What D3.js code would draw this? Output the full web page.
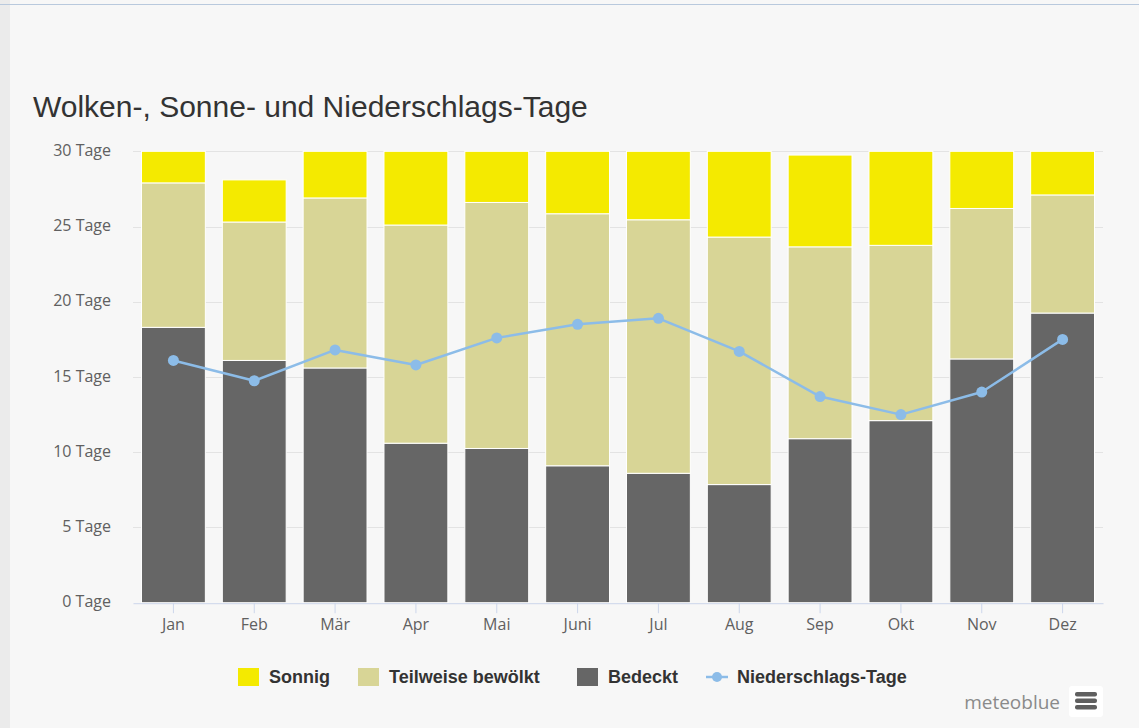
<!DOCTYPE html>
<html>
<head>
<meta charset="utf-8">
<script src="https://cdn.jsdelivr.net/npm/d3@7"></script>
<style>
  html, body { margin: 0; padding: 0; background: #f7f7f7; }
  svg { display: block; }
</style>
</head>
<body>
<div id="chart"></div>
<script>
// chart data
var months = ["Jan", "Feb", "Mär", "Apr", "Mai", "Juni", "Jul", "Aug", "Sep", "Okt", "Nov", "Dez"];
var bedeckt = [18.3, 16.1, 15.6, 10.6, 10.25, 9.1, 8.6, 7.85, 10.9, 12.1, 16.2, 19.25];
var teilweise = [9.6, 9.2, 11.3, 14.5, 16.35, 16.75, 16.85, 16.45, 12.75, 11.65, 10.0, 7.85];
var sonnig = [2.1, 2.8, 3.1, 4.9, 3.4, 4.15, 4.55, 5.7, 6.1, 6.25, 3.8, 2.9];
var niederschlag = [16.1, 14.75, 16.8, 15.8, 17.6, 18.5, 18.9, 16.7, 13.7, 12.5, 14.0, 17.5];
var yTicks = [0, 5, 10, 15, 20, 25, 30];

var seriesNames = ["Sonnig", "Teilweise bewölkt", "Bedeckt", "Niederschlags-Tage"];
var colors = { sonnig: "#f4ea00", teilweise: "#d8d596", bedeckt: "#666666", line: "#8cbce8" };

function drawChart(selector) {
    var width = 1139, height = 728;
    var left = 133, right = 1103, top = 151.3, bottom = 602.7;

    var svg = d3.select(selector)
        .append("svg")
        .attr("width", width)
        .attr("height", height);

    // frame bits of the page
    svg.append("rect").attr("width", width).attr("height", height).attr("fill", "#f7f7f7");
    svg.append("rect").attr("x", 0).attr("y", 0).attr("width", 10).attr("height", height).attr("fill", "#ebebeb");
    svg.append("line").attr("x1", 0).attr("x2", width).attr("y1", 4.5).attr("y2", 4.5)
        .attr("stroke", "#b9c9dd").attr("stroke-width", 1);

    svg.append("text")
        .attr("x", 33)
        .attr("y", 117)
        .attr("font-family", "'Liberation Sans', Arial, sans-serif")
        .attr("font-size", 30)
        .attr("fill", "#333333")
        .text("Wolken-, Sonne- und Niederschlags-Tage");

    var x = d3.scaleBand()
        .domain(months)
        .range([left, right]);

    var y = d3.scaleLinear()
        .domain([0, 30])
        .range([bottom, top]);

    var barW = x.bandwidth() * 0.79;

    // grid + y labels
    svg.append("g")
        .selectAll("line")
        .data(yTicks.filter(function(d) { return d > 0; }))
        .enter().append("line")
        .attr("x1", left).attr("x2", right)
        .attr("y1", function(d) { return Math.round(y(d)) + 0.5; })
        .attr("y2", function(d) { return Math.round(y(d)) + 0.5; })
        .attr("stroke", "#e3e3e3")
        .attr("stroke-width", 1);

    svg.append("g")
        .selectAll("text")
        .data(yTicks)
        .enter().append("text")
        .attr("x", 111)
        .attr("y", function(d) { return y(d) - 1; })
        .attr("dy", "0.35em")
        .attr("text-anchor", "end")
        .attr("font-family", "'Open Sans', sans-serif")
        .attr("font-size", 16)
        .attr("fill", "#606060")
        .text(function(d) { return d + " Tage"; });

    // stacked bars
    var rows = months.map(function(m, i) {
        return { month: m, bedeckt: bedeckt[i], teilweise: teilweise[i], sonnig: sonnig[i] };
    });
    var stack = d3.stack().keys(["bedeckt", "teilweise", "sonnig"]);
    var layers = stack(rows);

    svg.append("g")
        .selectAll("g")
        .data(layers)
        .enter().append("g")
        .attr("fill", function(d) { return colors[d.key]; })
        .selectAll("rect")
        .data(function(d) { return d; })
        .enter().append("rect")
        .attr("x", function(d) { return x(d.data.month) + (x.bandwidth() - barW) / 2; })
        .attr("y", function(d) { return y(d[1]); })
        .attr("width", barW)
        .attr("height", function(d) { return y(d[0]) - y(d[1]); })
        .attr("stroke", "#ffffff")
        .attr("stroke-width", 1);

    // x axis
    var xAxis = svg.append("g")
        .attr("transform", "translate(0," + (bottom + 0.5) + ")")
        .call(d3.axisBottom(x).tickSize(10).tickSizeOuter(0).tickPadding(5));
    xAxis.select(".domain").attr("stroke", "#ccd6eb");
    xAxis.selectAll(".tick line").attr("stroke", "#ccd6eb");
    xAxis.selectAll(".tick text")
        .attr("font-family", "'Open Sans', sans-serif")
        .attr("font-size", 16)
        .attr("fill", "#606060");

    // precipitation line
    var line = d3.line()
        .x(function(d, i) { return x(months[i]) + x.bandwidth() / 2; })
        .y(function(d) { return y(d); });

    svg.append("path")
        .datum(niederschlag)
        .attr("fill", "none")
        .attr("stroke", colors.line)
        .attr("stroke-width", 2.5)
        .attr("stroke-linejoin", "round")
        .attr("d", line);

    svg.append("g")
        .selectAll("circle")
        .data(niederschlag)
        .enter().append("circle")
        .attr("cx", function(d, i) { return x(months[i]) + x.bandwidth() / 2; })
        .attr("cy", function(d) { return y(d); })
        .attr("r", 5.5)
        .attr("fill", colors.line);

    // legend
    var legendX = [238, 358, 577, 706];
    var legendColors = [colors.sonnig, colors.teilweise, colors.bedeckt, colors.line];
    var lg = svg.append("g").attr("transform", "translate(0,677)");
    seriesNames.forEach(function(name, i) {
        var item = lg.append("g").attr("transform", "translate(" + legendX[i] + ",0)");
        if (i < 3) {
            item.append("rect")
                .attr("x", 0).attr("y", -9)
                .attr("width", 21).attr("height", 18)
                .attr("fill", legendColors[i]);
        } else {
            item.append("line")
                .attr("x1", 0).attr("x2", 22).attr("y1", 0).attr("y2", 0)
                .attr("stroke", legendColors[i]).attr("stroke-width", 2.5);
            item.append("circle")
                .attr("cx", 11).attr("cy", 0).attr("r", 5)
                .attr("fill", legendColors[i]);
        }
        item.append("text")
            .attr("x", 31)
            .attr("y", 0)
            .attr("dy", "0.36em")
            .attr("font-family", "'Liberation Sans Narrow', 'Liberation Sans', sans-serif")
            .attr("font-weight", "bold")
            .attr("font-size", 18)
            .attr("fill", "#333333")
            .text(name);
    });

    // credit + menu button
    svg.append("text")
        .attr("x", 1060)
        .attr("y", 709)
        .attr("text-anchor", "end")
        .attr("font-family", "'Open Sans', sans-serif")
        .attr("font-size", 19)
        .attr("fill", "#8a8a8a")
        .text("meteoblue");

    var menu = svg.append("g").attr("transform", "translate(1069,686)");
    menu.append("rect")
        .attr("width", 34).attr("height", 31).attr("rx", 3)
        .attr("fill", "#ffffff");
    [8, 14.5, 21].forEach(function(yy) {
        menu.append("rect")
            .attr("x", 6).attr("y", yy - 2)
            .attr("width", 22).attr("height", 4.5).attr("rx", 2)
            .attr("fill", "#5f5f5f");
    });
}

drawChart("#chart");
</script>
</body>
</html>
